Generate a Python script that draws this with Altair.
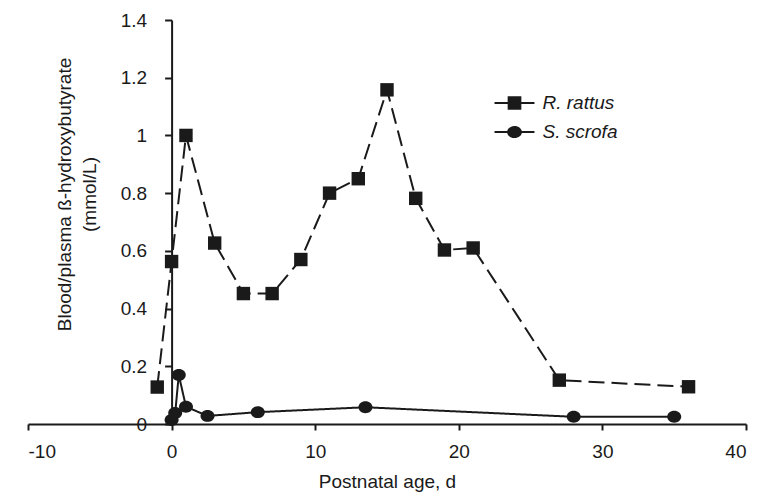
import altair as alt
import pandas as pd

# ---- data ----
rat_name = "R. rattus"
pig_name = "S. scrofa"

rat_x = [-1, 0, 1, 3, 5, 7, 9, 11, 13, 15, 17, 19, 21, 27, 36]
rat_y = [0.128, 0.563, 1.0, 0.627, 0.452, 0.452, 0.570, 0.800, 0.850, 1.158, 0.782, 0.603, 0.610, 0.152, 0.129]

pig_x = [0, 0.25, 0.5, 1, 2.5, 6, 13.5, 28, 35]
pig_y = [0.014, 0.038, 0.170, 0.060, 0.028, 0.041, 0.058, 0.025, 0.025]

x_ticks = [-10, 0, 10, 20, 30, 40]
y_ticks = [0, 0.2, 0.4, 0.6, 0.8, 1, 1.2, 1.4]

x_title = "Postnatal age, d"
y_title = ["Blood/plasma \u00df-hydroxybutyrate", "(mmol/L)"]

rows = []
for i, (x, y) in enumerate(zip(rat_x, rat_y)):
    rows.append({"x": x, "y": y, "series": rat_name, "idx": i})
for i, (x, y) in enumerate(zip(pig_x, pig_y)):
    rows.append({"x": x, "y": y, "series": pig_name, "idx": i})
df = pd.DataFrame(rows)

names = [rat_name, pig_name]
INK = "#1a1a1a"
FONT = "Liberation Sans"
W, H = 718, 404

xscale = alt.Scale(domain=[-10, 40], nice=False, zero=False)
yscale = alt.Scale(domain=[0, 1.4], nice=False)

xaxis = alt.Axis(
    values=x_ticks, title=x_title, grid=False,
    labelExpr="'' + datum.value",
    domainColor=INK, domainWidth=2, tickColor=INK, tickWidth=2, tickSize=6,
    labelFont=FONT, labelFontSize=19, labelColor=INK, labelPadding=12,
    titleFont=FONT, titleFontSize=19, titleFontWeight="normal", titleColor=INK,
    titlePadding=11,
)
yaxis = alt.Axis(
    values=y_ticks, title=y_title, grid=False, offset=-W / 5,
    labelExpr="'' + datum.value",
    domainColor=INK, domainWidth=2, tickColor=INK, tickWidth=2, tickSize=7,
    labelFont=FONT, labelFontSize=19, labelColor=INK, labelPadding=18,
    titleFont=FONT, titleFontSize=19, titleFontWeight="normal", titleColor=INK,
    titleAngle=270, titleBaseline="middle", titleAlign="center",
    titleLineHeight=25, titleX=-107, titleY=174,
)

base = alt.Chart(df)

lines = base.mark_line(strokeWidth=2, color=INK).encode(
    x=alt.X("x:Q", scale=xscale, axis=xaxis),
    y=alt.Y("y:Q", scale=yscale, axis=yaxis),
    detail="series:N",
    order="idx:Q",
    strokeDash=alt.StrokeDash(
        "series:N",
        scale=alt.Scale(domain=names, range=[[16, 7], [1, 0]]),
        legend=None,
    ),
)

ellipse = "M1,0A1,0.85 0 1 1 -1,0A1,0.85 0 1 1 1,0Z"
points = base.mark_point(filled=True, opacity=1, color=INK, strokeWidth=0).encode(
    x=alt.X("x:Q", scale=xscale),
    y=alt.Y("y:Q", scale=yscale),
    shape=alt.Shape(
        "series:N",
        scale=alt.Scale(domain=names, range=["square", ellipse]),
        legend=None,
    ),
    size=alt.Size(
        "series:N",
        scale=alt.Scale(domain=names, range=[180, 196]),
        legend=None,
    ),
)

bar = "M-1.08,-0.055H1.08V0.055H-1.08Z"
sq_path = bar + "M-0.37,-0.37H0.37V0.37H-0.37Z"
ci_path = bar + "M0.4,0A0.4,0.33 0 1 1 -0.4,0A0.4,0.33 0 1 1 0.4,0Z"
legend_layer = base.mark_point(filled=True, opacity=0, color=INK, strokeWidth=0).encode(
    x=alt.X("x:Q", scale=xscale),
    y=alt.Y("y:Q", scale=yscale),
    shape=alt.Shape(
        "series:N",
        scale=alt.Scale(domain=names, range=[sq_path, ci_path]),
        legend=alt.Legend(
            orient="none", legendX=468, legendY=64.5, title=None,
            symbolSize=1369, symbolStrokeWidth=0,
            symbolFillColor=INK, symbolOpacity=1,
            labelFont=FONT, labelFontSize=19, labelFontStyle="italic",
            labelColor=INK, labelOffset=9.5, rowPadding=0, padding=0,
        ),
    ),
)

chart = (
    alt.layer(lines, points, legend_layer)
    .resolve_scale(shape="independent")
    .properties(
        width=W, height=H,
        autosize=alt.AutoSizeParams(type="none"),
        padding={"left": 20, "top": 12, "right": 11, "bottom": 74},
        background="white",
    )
    .configure_view(stroke=None)
)

chart.save("out.html", embed_options={"renderer": "svg", "actions": False})
